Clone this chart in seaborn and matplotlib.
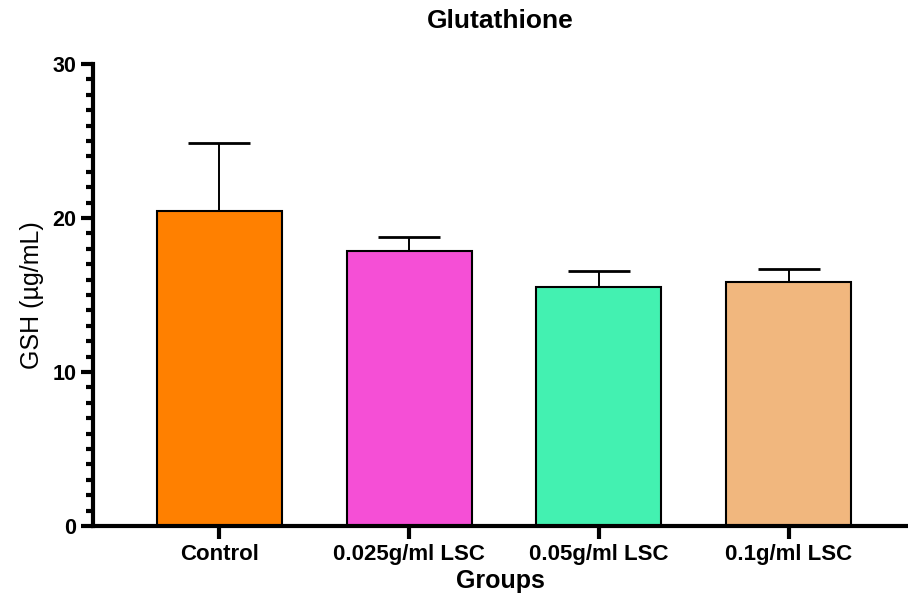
import matplotlib
matplotlib.use("Agg")
import matplotlib.pyplot as plt
import seaborn as sns
import numpy as np
from matplotlib.ticker import MultipleLocator

groups = ["Control", "0.025g/ml LSC", "0.05g/ml LSC", "0.1g/ml LSC"]
means = [20.45, 17.86, 15.52, 15.84]
errors = [4.42, 0.91, 1.04, 0.85]
colors = ["#FF8000", "#F54FD6", "#43F1B1", "#F1B77E"]

sns.set_style("white")
plt.rcParams['font.family'] = ['Liberation Sans', 'DejaVu Sans']
plt.rcParams['text.color'] = 'black'
plt.rcParams['axes.labelcolor'] = 'black'
plt.rcParams['xtick.color'] = 'black'
plt.rcParams['ytick.color'] = 'black'

fig = plt.figure(figsize=(9.08, 5.96), dpi=100)
ax = fig.add_axes([0.1024, 0.1174, 0.8976, 0.7752])

sns.barplot(x=groups, y=means, hue=groups, palette=colors, legend=False,
            saturation=1, width=0.66, edgecolor="black", linewidth=1.5,
            ax=ax, zorder=2)
ax.errorbar(x=np.arange(len(groups)), y=means,
            yerr=[np.zeros(len(groups)), errors], fmt="none",
            ecolor="black", elinewidth=1.4, capsize=22, capthick=2, zorder=1)

ax.set_xlim(-0.667, 3.63)
ax.set_ylim(0, 30)
ax.yaxis.set_major_locator(MultipleLocator(10))
ax.yaxis.set_minor_locator(MultipleLocator(1))

for s in ["top", "right"]:
    ax.spines[s].set_visible(False)
for s in ["left", "bottom"]:
    ax.spines[s].set_linewidth(3)
    ax.spines[s].set_color("black")

ax.tick_params(axis="y", which="major", length=9, width=3, color="black",
               left=True, labelsize=15.5, pad=3)
ax.tick_params(axis="y", which="minor", length=5, width=3, color="black", left=True)
ax.tick_params(axis="x", which="major", length=9, width=3, color="black",
               bottom=True, labelsize=16, pad=4)
for lab in ax.get_xticklabels() + ax.get_yticklabels():
    lab.set_fontweight("bold")

ax.set_ylabel("GSH (µg/mL)", fontsize=18, labelpad=6)
ax.set_xlabel("Groups", fontsize=18, fontweight="bold", labelpad=3)
ax.set_title("Glutathione", fontsize=19, fontweight="bold", pad=26)

fig.savefig("out.png", dpi=100)
